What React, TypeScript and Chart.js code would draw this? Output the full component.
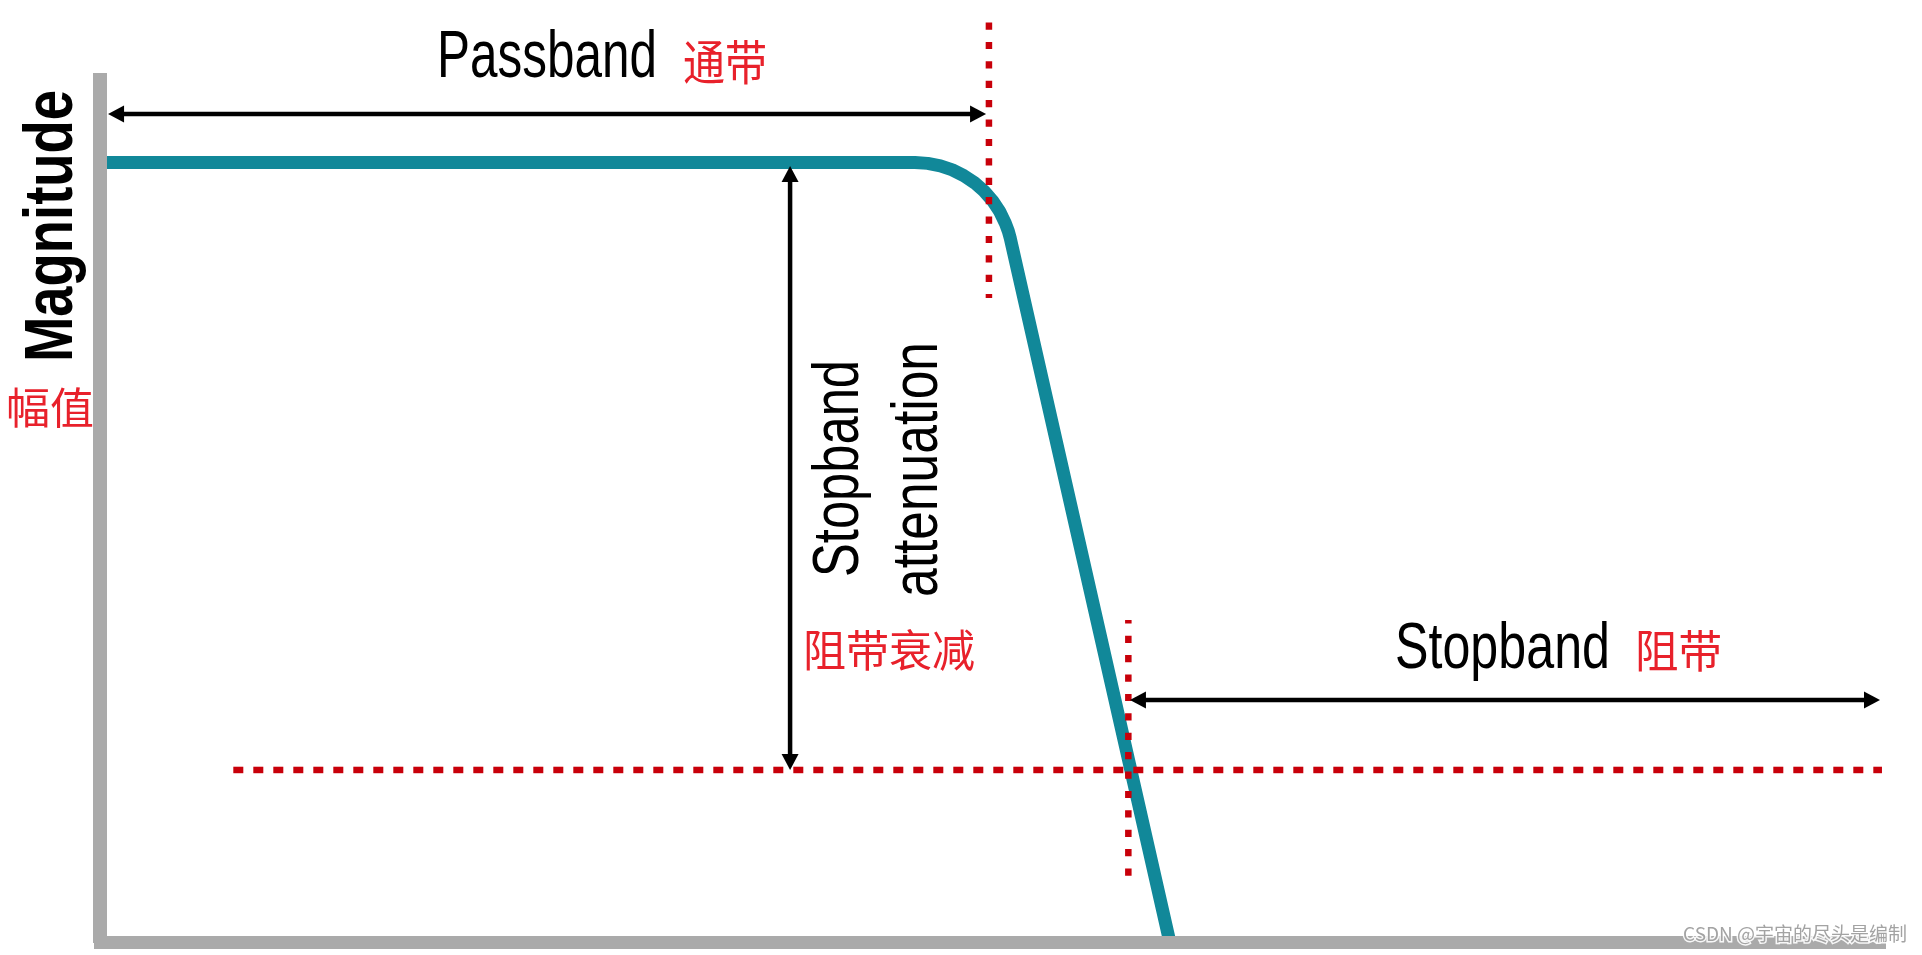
import React, { useEffect, useRef } from 'react';
import { Chart, registerables } from 'chart.js';

Chart.register(...registerables);

// Filter magnitude response (normalised frequency 0..10, magnitude 0..1)
const responseX = [0, 4.566, 4.637, 4.708, 4.775, 4.839, 4.899, 4.953, 5.0, 5.04, 5.071, 5.088, 5.1, 5.994];
const responseY = [1, 1, 0.9989, 0.9957, 0.9905, 0.9832, 0.9741, 0.9633, 0.951, 0.9374, 0.9227, 0.9124, 0.9025, 0];

// Band edges (vertical dotted markers)
const edgeX = [4.98, 5.761];
const edgeTop = [1.1795, 0.4135];
const edgeBottom = [0.8263, 0.0776];
const edgeDashOffset = [0, 3.7];

// Stopband level (horizontal dotted marker)
const stopLevel = 0.2212;
const stopLevelSpan = [0.7468, 9.983];

// Dimension arrows
const passbandArrowX = [0.045, 4.964];
const passbandArrowY = 1.0622;
const stopbandArrowX = [5.77, 9.972];
const stopbandArrowY = 0.3109;
const attenuationArrowX = 3.866;
const attenuationArrowY = [0.9955, 0.2212];

// Texts
const passbandLabel = ['Passband', '通带'];
const magnitudeLabel = ['Magnitude', '幅值'];
const attenuationLabel = ['Stopband', 'attenuation', '阻带衰减'];
const stopbandLabel = ['Stopband', '阻带'];
const watermark = 'CSDN @宇宙的尽头是编制';

const TEAL = '#118899';
const AXIS = '#aaaaaa';
const DOT_RED = '#c8000a';
const TEXT_RED = '#e8212b';
const LATIN = '"Liberation Sans", Arial, sans-serif';
const CJK = '"Noto Sans CJK SC", sans-serif';

function fitText(
  ctx: CanvasRenderingContext2D,
  text: string,
  x: number,
  y: number,
  font: string,
  color: string,
  width: number,
  align: CanvasTextAlign,
  rotated: boolean
) {
  ctx.save();
  ctx.translate(x, y);
  if (rotated) ctx.rotate(-Math.PI / 2);
  ctx.font = font;
  ctx.textBaseline = 'alphabetic';
  ctx.textAlign = align;
  const w = ctx.measureText(text).width;
  ctx.scale(width / w, 1);
  ctx.fillStyle = color;
  ctx.fillText(text, 0, 0);
  ctx.restore();
}

function head(ctx: CanvasRenderingContext2D, tx: number, ty: number, dx: number, dy: number) {
  const L = 16;
  const W = 8.5;
  ctx.beginPath();
  ctx.moveTo(tx, ty);
  ctx.lineTo(tx - dx * L - dy * W, ty - dy * L + dx * W);
  ctx.lineTo(tx - dx * L + dy * W, ty - dy * L - dx * W);
  ctx.closePath();
  ctx.fill();
}

function doubleArrow(ctx: CanvasRenderingContext2D, x1: number, y1: number, x2: number, y2: number) {
  const ang = Math.atan2(y2 - y1, x2 - x1);
  const dx = Math.cos(ang);
  const dy = Math.sin(ang);
  ctx.save();
  ctx.strokeStyle = '#000';
  ctx.fillStyle = '#000';
  ctx.lineWidth = 4.5;
  ctx.lineCap = 'butt';
  ctx.beginPath();
  ctx.moveTo(x1 + dx * 12, y1 + dy * 12);
  ctx.lineTo(x2 - dx * 12, y2 - dy * 12);
  ctx.stroke();
  head(ctx, x2, y2, dx, dy);
  head(ctx, x1, y1, -dx, -dy);
  ctx.restore();
}

const annotations = {
  id: 'annotations',
  afterDraw(chart: any) {
    const ctx: CanvasRenderingContext2D = chart.ctx;
    const xs = chart.scales.x;
    const ys = chart.scales.y;
    const px = (v: number) => xs.getPixelForValue(v);
    const py = (v: number) => ys.getPixelForValue(v);

    // dotted markers
    ctx.save();
    ctx.strokeStyle = DOT_RED;
    ctx.lineWidth = 6.5;
    ctx.lineCap = 'butt';
    ctx.setLineDash([7.2, 12.2]);
    edgeX.forEach((ex, i) => {
      ctx.lineDashOffset = edgeDashOffset[i];
      ctx.beginPath();
      ctx.moveTo(px(ex), py(edgeTop[i]));
      ctx.lineTo(px(ex), py(edgeBottom[i]));
      ctx.stroke();
    });
    ctx.lineDashOffset = 0;
    ctx.setLineDash([10, 10]);
    ctx.beginPath();
    ctx.moveTo(px(stopLevelSpan[0]), py(stopLevel));
    ctx.lineTo(px(stopLevelSpan[1]), py(stopLevel));
    ctx.stroke();
    ctx.restore();

    // arrows
    doubleArrow(ctx, px(passbandArrowX[0]), py(passbandArrowY), px(passbandArrowX[1]), py(passbandArrowY));
    doubleArrow(ctx, px(stopbandArrowX[0]), py(stopbandArrowY), px(stopbandArrowX[1]), py(stopbandArrowY));
    doubleArrow(ctx, px(attenuationArrowX), py(attenuationArrowY[0]), px(attenuationArrowX), py(attenuationArrowY[1]));

    // texts
    fitText(ctx, passbandLabel[0], 437, 77, `66px ${LATIN}`, '#000', 220, 'left', false);
    fitText(ctx, passbandLabel[1], 683, 80, `48px ${CJK}`, TEXT_RED, 84, 'left', false);

    fitText(ctx, magnitudeLabel[0], 72, 226, `bold 68px ${LATIN}`, '#000', 272, 'center', true);
    fitText(ctx, magnitudeLabel[1], 50, 424, `43px ${CJK}`, TEXT_RED, 88, 'center', false);

    fitText(ctx, attenuationLabel[0], 858, 468.5, `64px ${LATIN}`, '#000', 217, 'center', true);
    fitText(ctx, attenuationLabel[1], 937, 469.5, `64px ${LATIN}`, '#000', 255, 'center', true);
    fitText(ctx, attenuationLabel[2], 889, 667, `44px ${CJK}`, TEXT_RED, 172, 'center', false);

    fitText(ctx, stopbandLabel[0], 1395, 668, `64px ${LATIN}`, '#000', 215, 'left', false);
    fitText(ctx, stopbandLabel[1], 1678.5, 667.5, `45px ${CJK}`, TEXT_RED, 87, 'center', false);

    // watermark
    ctx.save();
    ctx.font = `19px ${CJK}`;
    ctx.textAlign = 'right';
    ctx.textBaseline = 'alphabetic';
    ctx.lineWidth = 3;
    ctx.strokeStyle = 'rgba(255,255,255,0.9)';
    ctx.strokeText(watermark, 1907, 941);
    ctx.fillStyle = '#a3a3a3';
    ctx.fillText(watermark, 1907, 941);
    ctx.restore();
  },
};

export default function App() {
  const ref = useRef<HTMLCanvasElement>(null);

  useEffect(() => {
    document.body.style.margin = '0';
    document.body.style.overflow = 'hidden';
    if (!ref.current) return;
    const chart = new Chart(ref.current, {
      type: 'scatter',
      data: {
        datasets: [
          {
            data: responseX.map((x, i) => ({ x, y: responseY[i] })),
            showLine: true,
            borderColor: TEAL,
            backgroundColor: TEAL,
            borderWidth: 13,
            borderCapStyle: 'butt',
            borderJoinStyle: 'round',
            pointRadius: 0,
            pointHoverRadius: 0,
            tension: 0,
            fill: false,
          },
        ],
      },
      options: {
        responsive: false,
        animation: false,
        devicePixelRatio: 1,
        events: [],
        layout: { padding: { left: 100, top: 80, right: 37, bottom: 12.5 } },
        plugins: {
          legend: { display: false },
          tooltip: { enabled: false },
          title: { display: false },
        },
        scales: {
          x: {
            type: 'linear',
            min: 0,
            max: 10,
            grid: { display: false, drawTicks: false },
            ticks: { display: false },
            border: { display: true, color: AXIS, width: 13, z: 1 },
          },
          y: {
            type: 'linear',
            min: 0,
            max: 1.1058,
            grid: { display: false, drawTicks: false },
            ticks: { display: false },
            border: { display: true, color: AXIS, width: 14, z: 1 },
          },
        },
      },
      plugins: [annotations],
    } as any);
    return () => chart.destroy();
  }, []);

  return (
    <div style={{ position: 'absolute', left: 0, top: 0, width: 1922, height: 955 }}>
      <canvas ref={ref} width={1922} height={955} style={{ display: 'block' }} />
    </div>
  );
}
